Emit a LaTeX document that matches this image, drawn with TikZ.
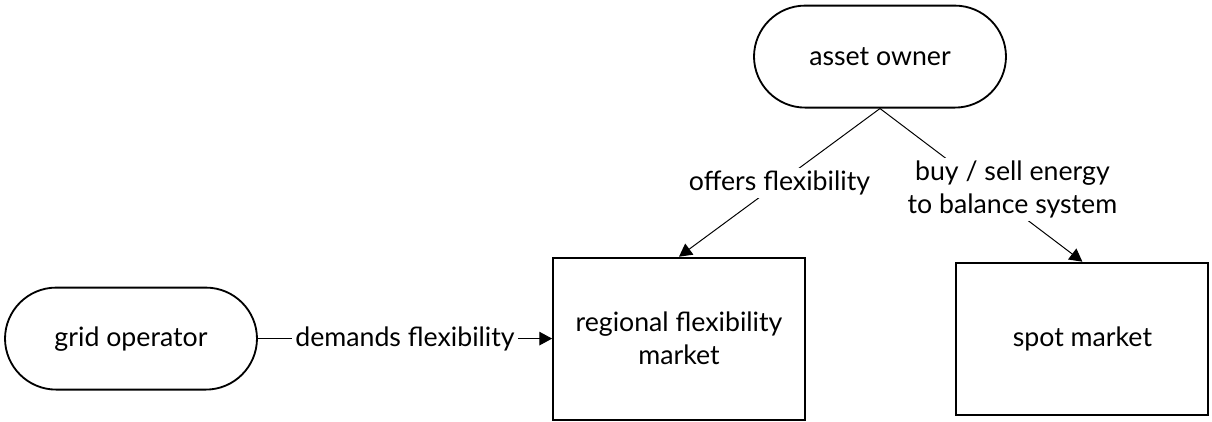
\documentclass[tikz,border=0pt]{standalone}
\usepackage{fontspec}
\setmainfont{Lato}
\usepackage{tikz}
\usetikzlibrary{arrows.meta,positioning}

\tikzset{
  actor/.style={draw, line width=1.3pt, rounded corners=1.28cm,
    minimum width=6.3cm, minimum height=2.55cm, align=center},
  market/.style={draw, line width=1.3pt, minimum width=6.3cm, align=center},
  flow/.style={-{Triangle[length=0.32cm, width=0.34cm]}, line width=0.7pt},
  flowlabel/.style={fill=white, inner sep=2pt, align=center}
}

\begin{document}
\begin{tikzpicture}[font=\fontsize{19}{23.5}\selectfont]
    \useasboundingbox (0,0) rectangle (30.3,10.525);

    % Actors
    \node[actor] (grid) at (3.275,2.06) {grid operator};
    \node[actor] (owner) at (22.0,9.11) {asset owner};

    % Markets
    \node[market, minimum height=4.05cm] (regional) at (16.975,2.06) {regional flexibility\\market};
    \node[market, minimum height=3.8cm] (spot) at (27.06,2.06) {spot market};

    % Flows
    \draw[flow] (grid) -- (regional) node[midway, flowlabel] {demands flexibility};
    \draw[flow] (owner.south) -- (regional.north) node[midway, flowlabel] {offers flexibility};
    \draw[flow] (owner.south) -- (spot.north)
        node[midway, flowlabel, xshift=0.78cm, yshift=-0.12cm] {buy / sell energy\\to balance system};
\end{tikzpicture}
\end{document}
